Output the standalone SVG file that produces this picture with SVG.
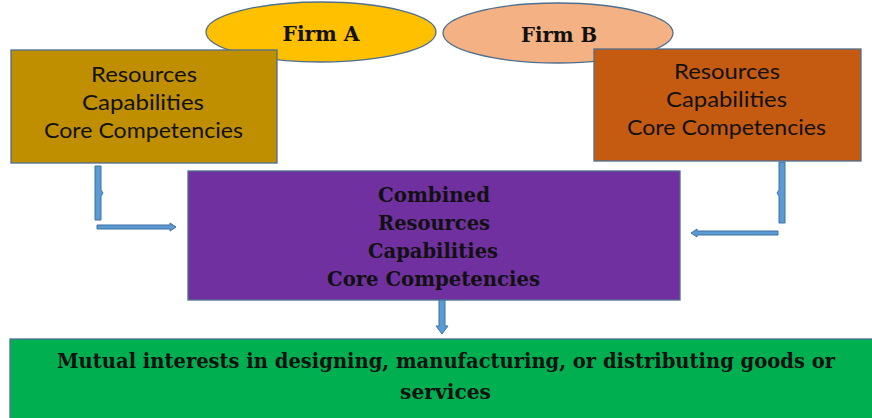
<svg xmlns="http://www.w3.org/2000/svg" width="872" height="418" viewBox="0 0 872 418">
<style>
.box{stroke:#4f6f8f;stroke-width:1.3}
.t{font-family:Lato,"Liberation Sans",sans-serif;font-size:22px;fill:#111;text-anchor:middle}
.s{font-family:"DejaVu Serif","Liberation Serif",serif;font-weight:bold;font-size:20px;fill:#111;text-anchor:middle}
.c{fill:#5b9bd5;stroke:#41719c;stroke-width:1}
</style>
<rect width="872" height="418" fill="#fff"/>
<g id="firmA">
<ellipse class="box" cx="321" cy="32" rx="115" ry="30" fill="#ffc000"/>
<text class="s" x="321" y="41" textLength="77" lengthAdjust="spacingAndGlyphs">Firm A</text>
</g>
<g id="firmB">
<ellipse class="box" cx="558" cy="33" rx="115" ry="30" fill="#f4b183"/>
<text class="s" x="559" y="42" textLength="76" lengthAdjust="spacingAndGlyphs">Firm B</text>
</g>
<g id="resA">
<rect class="box" x="11" y="50" width="266" height="113" fill="#bf8f00"/>
<text class="t" x="144" y="82" textLength="106" lengthAdjust="spacingAndGlyphs">Resources</text>
<text class="t" x="143" y="110" textLength="122" lengthAdjust="spacingAndGlyphs">Capabilities</text>
<text class="t" x="143.5" y="138" textLength="199" lengthAdjust="spacingAndGlyphs">Core Competencies</text>
</g>
<g id="resB">
<rect class="box" x="594" y="49" width="267" height="112" fill="#c55a11"/>
<text class="t" x="727" y="79" textLength="106" lengthAdjust="spacingAndGlyphs">Resources</text>
<text class="t" x="726.5" y="107" textLength="121" lengthAdjust="spacingAndGlyphs">Capabilities</text>
<text class="t" x="726.5" y="135" textLength="199" lengthAdjust="spacingAndGlyphs">Core Competencies</text>
</g>
<g id="combined">
<rect class="box" x="188" y="171" width="492" height="129" fill="#7030a0"/>
<text class="s" x="434" y="202" textLength="112" lengthAdjust="spacingAndGlyphs">Combined</text>
<text class="s" x="434" y="230" textLength="112" lengthAdjust="spacingAndGlyphs">Resources</text>
<text class="s" x="433" y="258" textLength="130" lengthAdjust="spacingAndGlyphs">Capabilities</text>
<text class="s" x="433.5" y="286" textLength="213" lengthAdjust="spacingAndGlyphs">Core Competencies</text>
</g>
<g id="mutual">
<rect class="box" x="10" y="339" width="866" height="84" fill="#00b050"/>
<text class="s" x="446" y="368" textLength="778" lengthAdjust="spacingAndGlyphs">Mutual interests in designing, manufacturing, or distributing goods or</text>
<text class="s" x="445.5" y="399" textLength="91" lengthAdjust="spacingAndGlyphs">services</text>
</g>
<g id="connectors">
<path class="c" d="M95,166 H101 V190 L103,193 L101,196 V220 H95 Z"/>
<path class="c" d="M97,225 H170 V223 L176,227 L170,231 V229 H97 Z"/>
<path class="c" d="M779,162 H785 V223 H779 V196 L777,193 L779,190 Z"/>
<path class="c" d="M778,231 H697 V229 L691,233 L697,237 V235 H778 Z"/>
<path class="c" d="M439,300 H445 V326 H448 L442,334 L436,326 H439 Z"/>
</g>
</svg>
